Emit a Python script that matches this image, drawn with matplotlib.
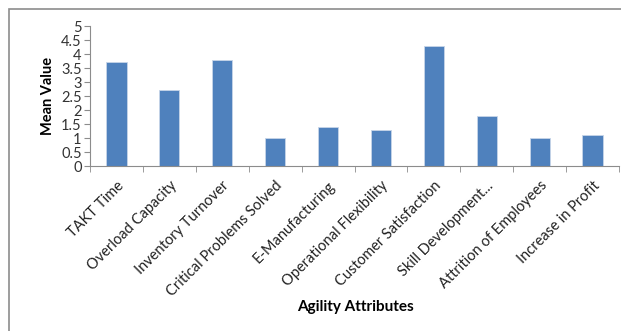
import matplotlib.pyplot as plt
from matplotlib.patches import Rectangle
from matplotlib.transforms import ScaledTranslation

# mean score per agility attribute
attributes = ['TAKT Time', 'Overload Capacity', 'Inventory Turnover',
              'Critical Problems Solved', 'E-Manufacturing',
              'Operational Flexibility', 'Customer Satisfaction',
              'Skill Development...', 'Attrition of Employees',
              'Increase in Profit']
mean_values = [3.7, 2.7, 3.8, 1.0, 1.4, 1.3, 4.3, 1.8, 1.0, 1.1]
y_ticks = [0, 0.5, 1, 1.5, 2, 2.5, 3, 3.5, 4, 4.5, 5]

plt.rcParams['font.family'] = ['Lato', 'DejaVu Sans']

fig = plt.figure(figsize=(6.21, 3.31), dpi=100)

# chart frame
fig.patches.append(Rectangle((9 / 621, -0.1), 1.2, 1 - 9 / 331 + 0.1,
                             transform=fig.transFigure, fill=False,
                             edgecolor='#8c8c8c', linewidth=1.2))

ax = fig.add_axes([90 / 621, 1 - 166 / 331, 529 / 621, 140 / 331])
x = range(len(attributes))
ax.bar(x, mean_values, width=0.38, color='#4f81bd', edgecolor='#c7d5e8',
       linewidth=0.6)

ax.set_xlim(-0.5, len(attributes) - 0.5)
ax.set_ylim(0, 5)
ax.set_yticks(y_ticks)
ax.set_yticklabels([f'{v:g}' for v in y_ticks], fontsize=10.5, color='#333333')

ax.set_xticks(x)
ax.set_xticklabels(attributes, rotation=45, ha='right', rotation_mode='anchor',
                   fontsize=10.5, color='#222222')
# nudge rotated labels a little left of the tick
shift = ScaledTranslation(-4 / 100, 0, fig.dpi_scale_trans)
for lbl in ax.get_xticklabels():
    lbl.set_transform(lbl.get_transform() + shift)
ax.set_xticks([i - 0.5 for i in range(len(attributes) + 1)], minor=True)
ax.tick_params(axis='x', which='major', length=0, pad=9)
ax.tick_params(axis='x', which='minor', length=4, color='#8c8c8c')
ax.tick_params(axis='y', length=4, color='#8c8c8c', pad=2)

for side in ['top', 'right']:
    ax.spines[side].set_visible(False)
for side in ['left', 'bottom']:
    ax.spines[side].set_color('#8c8c8c')

ax.set_ylabel('Mean Value', fontsize=10.5, fontweight='bold', labelpad=4)
fig.text(355 / 621, 1 - 307 / 331, 'Agility Attributes', ha='center',
         va='center', fontsize=11, fontweight='bold')

fig.savefig('out.png', dpi=100)
